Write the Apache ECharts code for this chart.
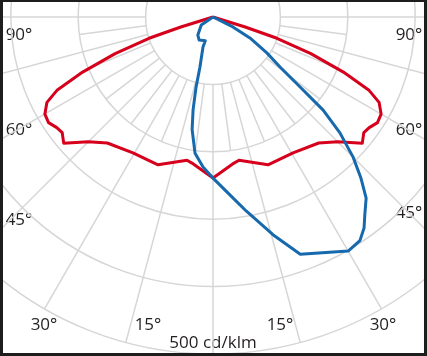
<!DOCTYPE html>
<html>
<head>
<meta charset="utf-8">
<script src="https://cdn.jsdelivr.net/npm/echarts@6/dist/echarts.min.js"></script>
<style>
  html, body { margin: 0; padding: 0; background: #fff; }
  #main { position: absolute; left: 0; top: 0; width: 427px; height: 356px; background: #fff; }
  #frame {
    position: absolute; left: 0; top: 0; width: 427px; height: 356px;
    box-sizing: border-box; border-style: solid; border-color: #1d1d1d;
    border-width: 2px 3px 3px 3px; pointer-events: none;
  }
</style>
</head>
<body>
<div id="main"></div>
<div id="frame"></div>
<script>
// angles are measured from nadir in degrees, positive to the left
// C0 - C180 plane (red)
var redAngles = [90, 72.8, 71.6, 69.5, 67.1, 64.9, 62.8, 60, 57.3, 54.7, 52.5, 49.8, 45, 40, 30.5, 20.4, 10.3, 8.2, 0,
  -8.2, -10.3, -20.4, -30.5, -40, -45, -49.8, -52.5, -54.7, -57.3, -60, -62.8, -64.9, -67.1, -69.5, -71.6, -72.8, -90]
var redValues = [0, 50, 100, 155, 210, 255, 277, 288, 290, 284, 282, 290, 262, 244, 234, 234, 216, 219, 239,
  219, 216, 234, 234, 244, 262, 290, 282, 284, 290, 288, 277, 255, 210, 155, 100, 50, 0]

// C90 - C270 plane (blue)
var blueAngles = [90, 56, 40, 31, 18, 18.4, 14.6, 13.6, 12.1, 10.5, 7.5, 3.8, 0,
  -4.3, -9.7, -15.4, -20.2, -30, -33.3, -35.6, -37.5, -40.2, -42.6, -45, -47.6, -49.8, -51, -53.3, -56.3, -60.4, -63.4, -90]
var blueValues = [0, 21, 35, 40, 37, 47, 77, 107, 141, 170, 204, 223, 239,
  259, 292, 335, 375, 401, 397, 385, 370, 352, 324, 294, 255, 214, 172, 124, 96, 63, 33, 0]

var angleLabels = ['90°', '60°', '45°', '30°', '15°', '15°', '30°', '45°', '60°', '90°']
var unitLabel = '500 cd/klm'

// layout of the labels (page px)
var labelPos = [[19, 35], [19, 130], [19, 220], [44, 325], [148, 325], [280, 325], [383, 325], [409, 213], [409, 130], [409, 35]]
var unitPos = [213, 343]

var gridColor = '#d6d6d6'
var textStyle = { font: '17px "Open Sans"', fill: '#231f20', align: 'center', verticalAlign: 'middle', textAlign: 'center', textVerticalAlign: 'middle' }

function pairs (angles, values) {
  return values.map(function (v, i) { return [v, angles[i]] })
}

function spoke (a, r0, r1) {
  return {
    type: 'line', coordinateSystem: 'polar', data: [[r0, a], [r1, a]],
    symbol: 'none', silent: true, clip: false, z: 1,
    lineStyle: { color: gridColor, width: 1.5 }
  }
}

var series = []
for (var a = -90; a <= 90; a += 15) series.push(spoke(a, 100, 900))
for (var b = -82.5; b <= 82.5; b += 15) series.push(spoke(b, 100, 200))

series.push({
  type: 'line', coordinateSystem: 'polar', data: pairs(redAngles, redValues),
  symbol: 'none', clip: false, z: 3, lineStyle: { color: '#d6001c', width: 3, join: 'round' }
})
series.push({
  type: 'line', coordinateSystem: 'polar', data: pairs(blueAngles, blueValues),
  symbol: 'none', clip: false, z: 4, lineStyle: { color: '#1769ad', width: 3, join: 'round' }
})

var graphics = angleLabels.map(function (t, i) {
  return { type: 'text', x: labelPos[i][0], y: labelPos[i][1], silent: true, style: Object.assign({ text: t }, textStyle) }
})
graphics.push({ type: 'text', x: unitPos[0], y: unitPos[1], silent: true, style: Object.assign({ text: unitLabel }, textStyle) })

var myChart = echarts.init(document.getElementById('main'), null, { renderer: 'canvas' })
myChart.setOption({
  animation: false,
  backgroundColor: '#fff',
  polar: { center: [213, 17], radius: 337 },
  angleAxis: {
    type: 'value', min: -180, max: 180, startAngle: 90, clockwise: true,
    axisLine: { show: false }, axisTick: { show: false }, axisLabel: { show: false }, splitLine: { show: false }
  },
  radiusAxis: {
    type: 'value', min: 0, max: 500, interval: 100,
    axisLine: { show: false }, axisTick: { show: false }, axisLabel: { show: false },
    splitLine: { show: true, lineStyle: { color: gridColor, width: 1.5 } }
  },
  series: series,
  graphic: graphics
})
</script>
</body>
</html>
